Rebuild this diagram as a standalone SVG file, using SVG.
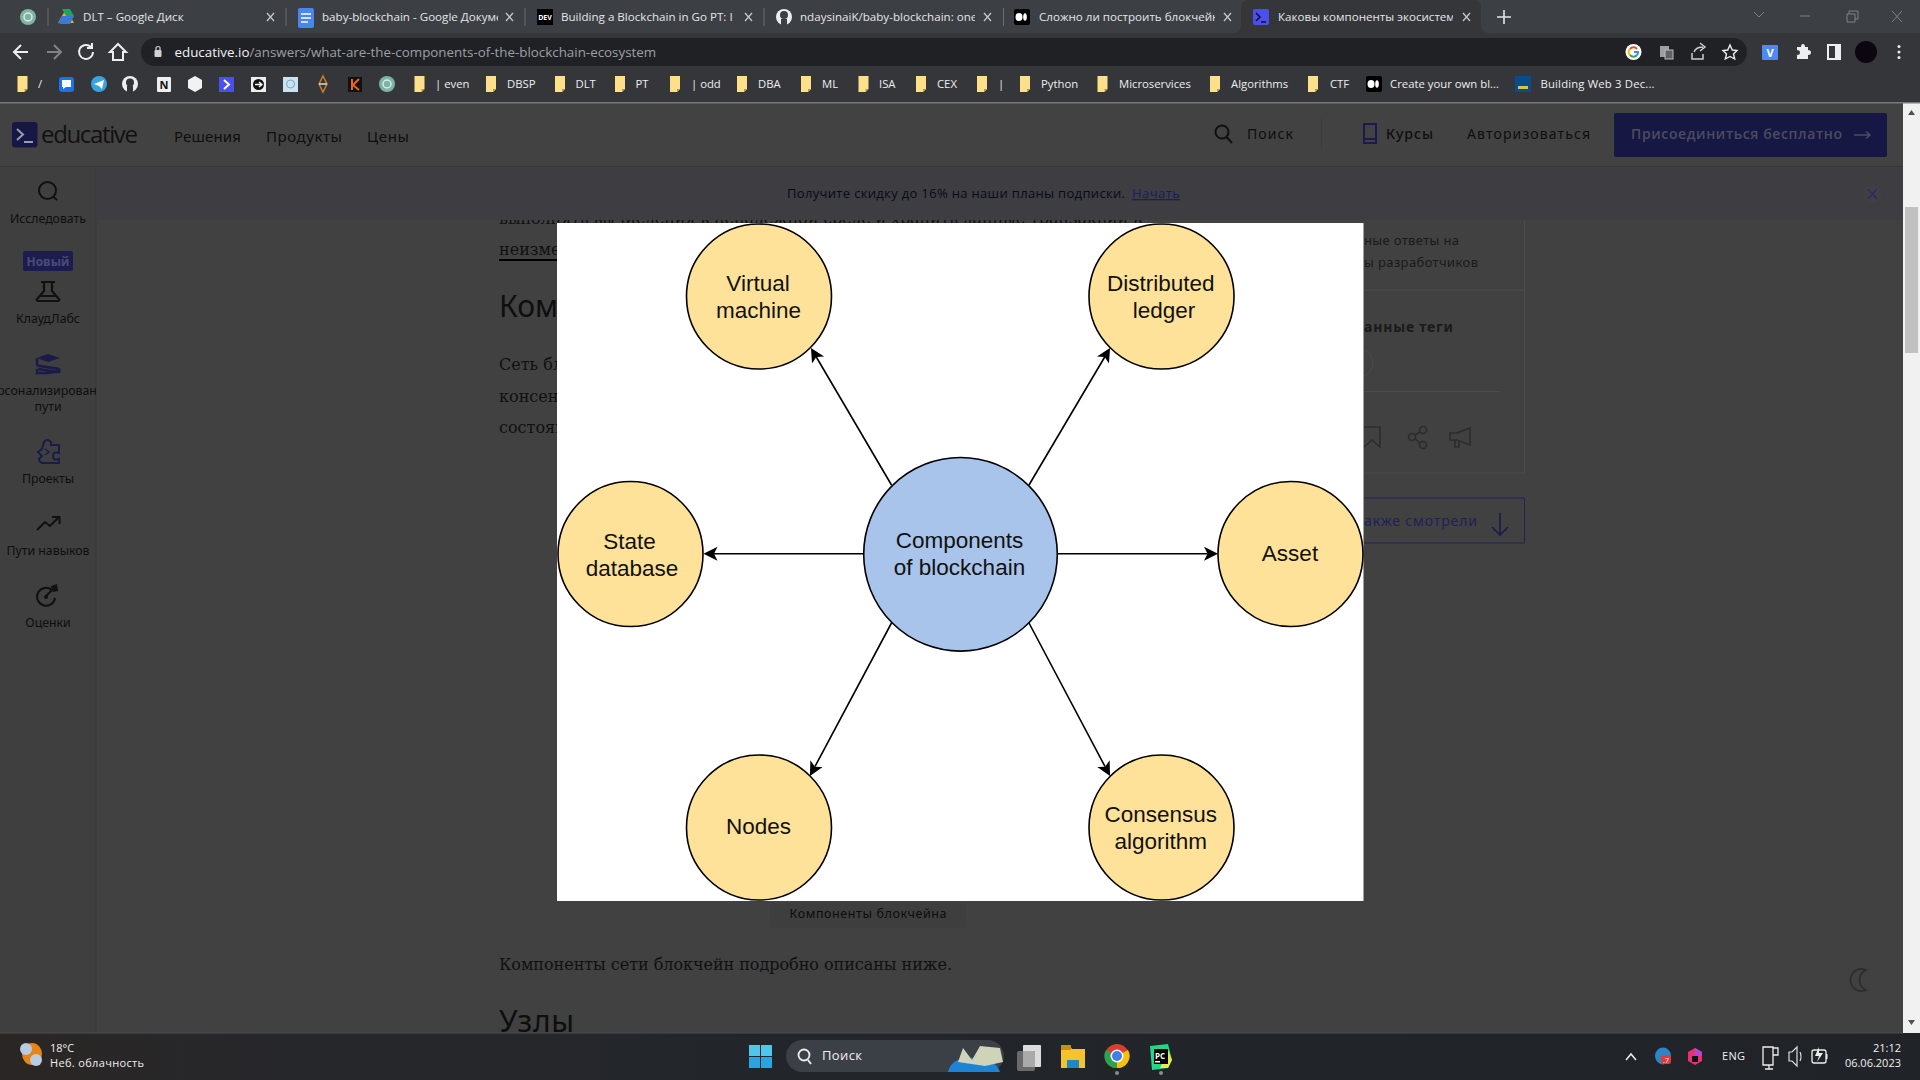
<svg xmlns="http://www.w3.org/2000/svg" width="1920" height="1080" viewBox="0 0 1920 1080">
<style>
text{font-family:"Open Sans","Noto Sans","Noto Sans CJK SC",sans-serif}
.tab{font-size:11.6px;fill:#e4e6e9}
.x{stroke:#c4c7cb;stroke-width:1.3;fill:none}
.bm{font-size:11.3px;fill:#eceef0}
.nav{font-size:15px;fill:#0e0e0e;font-family:"Noto Sans",sans-serif}
.side{font-size:12.3px;fill:#0e0e0e;font-family:"Noto Sans",sans-serif;text-anchor:middle}
.serif{font-family:"DejaVu Serif","Liberation Serif",serif;font-size:16px;fill:#101010}
.h{font-family:"Noto Sans",sans-serif;font-size:30px;fill:#0e0e0e}
.dim{font-size:13px;fill:#1a1a1a;font-family:"Noto Sans",sans-serif}
.tb{font-size:11px;fill:#f0f0f0}
.ic{fill:none;stroke:#101010;stroke-width:2}
.ic2{fill:none;stroke:#1a1a4c;stroke-width:2}
.ic3{fill:none;stroke:#2c2c2c;stroke-width:1.6}
.wh{fill:none;stroke:#eceef0;stroke-width:2}
.gy{fill:none;stroke:#c9ccd0;stroke-width:1.5}
.sep{stroke:#6a6d71;stroke-width:1}
.node{stroke:#000;stroke-width:1.6}
.y{fill:#ffe299}
.b{fill:#a9c4eb}
.lbl{font-family:"Liberation Sans",Arial,sans-serif;font-size:22.5px;fill:#111;text-anchor:middle}
.conn{stroke:#000;stroke-width:1.6;fill:none;marker-end:url(#ah)}
</style>
<defs>
<marker id="ah" markerUnits="userSpaceOnUse" markerWidth="16" markerHeight="16" refX="3.500" refY="7" orient="auto"><path d="M0,0 L14,7 L0,14 L3.500,7 Z" fill="#000"/></marker>
<g id="fold"><path d="M-5,-8 H5 V5 L2,8 H-5 Z" fill="#ffe08a"/><path d="M5,5 L2,8 V5 Z" fill="#b69a50"/></g>
<clipPath id="c1"><rect x="83" y="5" width="170" height="25"/></clipPath>
<clipPath id="c2"><rect x="322" y="5" width="176" height="25"/></clipPath>
<clipPath id="c3"><rect x="561" y="5" width="174" height="25"/></clipPath>
<clipPath id="c4"><rect x="800" y="5" width="175" height="25"/></clipPath>
<clipPath id="c5"><rect x="1039" y="5" width="176" height="25"/></clipPath>
<clipPath id="c6"><rect x="1278" y="5" width="175" height="25"/></clipPath>
<clipPath id="c7"><rect x="0" y="220" width="1920" height="40"/></clipPath>
<clipPath id="c8"><rect x="0" y="990" width="1920" height="42.5"/></clipPath>
<clipPath id="c9"><rect x="0" y="0" width="96" height="1080"/></clipPath>
<linearGradient id="tbg" x1="0" x2="1" y1="0" y2="0"><stop offset="0" stop-color="#2a2624"/><stop offset=".12" stop-color="#27272a"/><stop offset=".4" stop-color="#22262b"/><stop offset="1" stop-color="#202327"/></linearGradient>
</defs>

<g id="page">
<rect width="1920" height="1080" fill="#414141"/>
<rect x="0" y="167" width="96" height="866" fill="#3f3f3f"/>
<rect x="95.500" y="167" width="1" height="866" fill="#3a3a3a"/>
<g id="article">
<text class="serif" x="499" y="224" clip-path="url(#c7)" textLength="643">выполнять вычисления в ненадёжной среде и хранить данные транзакций в</text>
<text class="serif" x="499" y="255">неизме</text><rect x="499" y="259" width="58" height="2" fill="#000"/>
<text class="h" x="499" y="317">Ком</text>
<text class="serif" x="499" y="370">Сеть бл</text>
<text class="serif" x="499" y="402">консен</text>
<text class="serif" x="499" y="433">состоян</text>
<rect x="770" y="903" width="196" height="25" rx="3" fill="#3e3e3e"/>
<text class="dim" x="789.500" y="918" textLength="157" style="font-size:12.5px;fill:#0c0c0c">Компоненты блокчейна</text>
<text class="serif" x="499" y="970" textLength="453">Компоненты сети блокчейн подробно описаны ниже.</text>
<text class="h" x="499" y="1032" clip-path="url(#c8)" textLength="75">Узлы</text>
</g>
<g id="rail">
<path d="M1524.500,220 V473 H1364 M1364,290 H1524.500 M1364,391.500 H1500" stroke="#4c4c4c" fill="none"/>
<path d="M1364,350 A14,14 0 0 1 1364,376" stroke="#4c4c4c" fill="none"/>
<text class="dim" x="1364" y="245" textLength="95">ные ответы на</text>
<text class="dim" x="1364" y="267" textLength="114">ы разработчиков</text>
<text class="dim" x="1364" y="331.500" font-weight="700" textLength="89" style="font-size:14px">анные теги</text>
<path class="ic3" d="M1364,427 H1380 V447 L1372,440 L1364,447"/>
<g class="ic3"><circle cx="1423" cy="430" r="3.500"/><circle cx="1412" cy="437" r="3.500"/><circle cx="1423" cy="445" r="3.500"/><path d="M1415,435 L1420,432 M1415,439 L1420,443"/></g>
<path class="ic3" d="M1450,433 H1457 L1470,428 V445 L1457,440 H1450 Z M1455,440 V447 H1459 V441"/>
<path d="M1364,498 H1524.500 V543 H1364" stroke="#23235a" fill="none"/>
<text class="dim" x="1364" y="526" textLength="113" style="font-size:14px;fill:#20205a">акже смотрели</text>
<path class="ic2" d="M1500,513 V535 M1492,527 L1500,535 L1508,527" style="stroke-width:1.600"/>
<path class="ic3" d="M1866,970 A11,11 0 1 0 1866,990 A11,11 0 0 1 1866,970 Z"/>
</g>
<rect x="96" y="167" width="1807" height="53" fill="#3d3d42"/>
<g id="promo">
<text x="787" y="198" font-size="13" fill="#0a0a18" font-family="Noto Sans" textLength="338">Получите скидку до 16% на наши планы подписки.</text>
<text x="1132" y="198" font-size="13" fill="#1c1c66" font-family="Noto Sans" text-decoration="underline" textLength="48">Начать</text>
<circle cx="1872.500" cy="194" r="9" fill="#404044"/>
<path d="M1868,189 L1877,199 M1877,189 L1868,199" stroke="#2a2a62" stroke-width="1.300"/>
</g>
<g id="header">
<rect x="0" y="103" width="1903" height="63" fill="#424242"/>
<rect x="0" y="166" width="1903" height="1" fill="#383838"/>
<rect x="12" y="122" width="25.500" height="25.500" rx="3" fill="#171745"/>
<path d="M17,129 L23,134.500 L17,140 M24,142 H33" stroke="#9a9ab0" stroke-width="2" fill="none"/>
<text x="41" y="143" font-size="24" fill="#111" font-family="Lato" textLength="97">educative</text>
<text class="nav" x="174" y="142" textLength="67">Решения</text>
<text class="nav" x="266" y="142" textLength="76">Продукты</text>
<text class="nav" x="367" y="142" textLength="42">Цены</text>
<g class="ic"><circle cx="1222" cy="132" r="6.500"/><path d="M1226.500,137 L1232,143"/></g>
<text class="nav" x="1247" y="139" textLength="46" style="font-size:14px">Поиск</text>
<path d="M1321.500,118 V150" stroke="#3c3c3c"/>
<path class="ic2" d="M1364,124 H1376 V143 H1364 Z M1364,139 H1376"/>
<text class="nav" x="1386" y="139" textLength="47" font-weight="500" style="font-size:14px">Курсы</text>
<text class="nav" x="1467" y="139" textLength="123" style="font-size:14px">Авторизоваться</text>
<rect x="1614" y="113" width="273" height="44" rx="2" fill="#171743"/>
<text x="1631" y="139" font-size="14" font-weight="600" fill="#4c4c60" font-family="Noto Sans" textLength="211">Присоединиться бесплатно</text>
<path d="M1854,135 H1870 M1866,131.500 L1870,135 L1866,138.500" stroke="#4c4c60" stroke-width="1.500" fill="none"/>
</g>
<g id="sidebar">
<g class="ic"><circle cx="47.500" cy="190.500" r="8.500"/><path d="M53.500,197 L57,200"/></g>
<text class="side" x="48" y="223">Исследовать</text>
<rect x="23" y="251" width="50" height="20" rx="2" fill="#1c1c52"/>
<text x="48" y="265.500" font-size="12" font-weight="700" fill="#4c4c70" text-anchor="middle" font-family="Liberation Sans">Новый</text>
<path class="ic" d="M41,282 H55 M44,282 V291 L37,299 Q36,301 39,301 H57 Q60,301 59,299 L52,291 V282 M40,296 H56" style="stroke-width:2.200"/>
<text class="side" x="48" y="323">КлаудЛабс</text>
<path d="M37,358 L48,354 L60,358 L48,362 Z" fill="#1a1a4c"/>
<path class="ic2" style="stroke-width:2.500" d="M37,358 V364 Q37,366 40,366 L59,369 Q60,371 59,372 L38,369 M37,369 V373 L48,373 L60,371" />
<g clip-path="url(#c9)"><text class="side" x="47" y="395">рсонализирован</text></g>
<text class="side" x="48" y="411">пути</text>
<path class="ic2" d="M44,442 Q47,438 51,442 V445 H59 V453 Q53,451 53,456 Q53,461 59,459 V463 H44 Q39,463 39,459 L42,456 L38,452 L42,449 Z"/>
<path d="M45,449 L49,452 L45,455" class="ic2" style="stroke-width:1.300"/>
<text class="side" x="48" y="483">Проекты</text>
<path class="ic" d="M37,530 L45,522 L50,526 L59,517 M52,517 H59.500 V524"/>
<text class="side" x="48" y="555">Пути навыков</text>
<path class="ic" d="M52,590 A9,9 0 1 0 55,598 M46,596 L55,587"/><circle cx="46" cy="597" r="2" fill="#111"/><path d="M51,586 L57,584 L58,591 L53,592 Z" fill="#111"/>
<text class="side" x="48" y="627">Оценки</text>
</g>
<g id="scrollbar">
<rect x="1903" y="103" width="17" height="930" fill="#f1f1f1"/>
<rect x="1905" y="207" width="13" height="146" fill="#c1c1c1"/>
<path d="M1908,115 L1911.500,110 L1915,115 Z M1908,1020 L1911.500,1025 L1915,1020 Z" fill="#505050"/>
</g>
</g>

<g id="browser">
<rect width="1920" height="102" fill="#35363a"/>
<rect width="1920" height="33" fill="#3c3f43"/>
<rect y="102" width="1920" height="1.500" fill="#77797c"/>
<path d="M1233,33 Q1241,33 1241,25 V8 Q1241,0 1249,0 H1473 Q1481,0 1481,8 V25 Q1481,33 1489,33 Z" fill="#35363a"/>
<path class="sep" d="M48,8 V26 M286,8 V26 M525,8 V26 M764,8 V26 M1003.500,8 V26"/>
<circle cx="28" cy="17" r="8" fill="#7fb3a3"/><circle cx="28" cy="17" r="4" fill="none" stroke="#d5eee6" stroke-width="1.500"/>
<path d="M66,9 L74,23 H58 Z" fill="#f4b400"/><path d="M62,9 H70 L74,16 H66 Z" fill="#1fa463"/><path d="M58,23 L62,16 H74 L70,24 H61 Z" fill="#3c78d8"/>
<text class="tab" x="83" y="21" clip-path="url(#c1)">DLT – Google Диск</text>
<rect x="298" y="8" width="16" height="20" rx="2" fill="#4a86f0"/><path d="M301,14 H311 M301,18 H311 M301,22 H308" stroke="#fff" stroke-width="1.500"/>
<text class="tab" x="322" y="21" clip-path="url(#c2)">baby-blockchain - Google Документы</text>
<rect x="537" y="9" width="16" height="16" fill="#000"/><text x="545" y="20" font-size="7" font-weight="700" fill="#fff" text-anchor="middle" font-family="Liberation Sans">DEV</text>
<text class="tab" x="561" y="21" clip-path="url(#c3)">Building a Blockchain in Go PT: I - Th</text>
<circle cx="784" cy="17" r="8" fill="#eee"/><circle cx="784" cy="15" r="4" fill="#3c3f43"/><rect x="781" y="19" width="6" height="6" fill="#3c3f43"/>
<text class="tab" x="800" y="21" clip-path="url(#c4)">ndaysinaiK/baby-blockchain: one</text>
<rect x="1014" y="9" width="16" height="16" rx="2" fill="#000"/><ellipse cx="1019" cy="17" rx="3.500" ry="4" fill="#fff"/><ellipse cx="1025" cy="17" rx="1.800" ry="3.800" fill="#fff"/>
<text class="tab" x="1039" y="21" clip-path="url(#c5)">Сложно ли построить блокчейн</text>
<rect x="1253" y="9" width="16" height="16" rx="2" fill="#4c4ff0"/><path d="M1256,13 L1260,17 L1256,21 M1261,22 H1266" stroke="#111" stroke-width="1.500" fill="none"/>
<text class="tab" x="1278" y="21" clip-path="url(#c6)">Каковы компоненты экосистемы</text>
<g class="x"><path d="M267,13 L274,21 M274,13 L267,21"/><path d="M506,13 L513,21 M513,13 L506,21"/><path d="M745,13 L752,21 M752,13 L745,21"/><path d="M984,13 L991,21 M991,13 L984,21"/><path d="M1224,13 L1231,21 M1231,13 L1224,21"/><path d="M1463,13 L1470,21 M1470,13 L1463,21"/></g>
<path d="M1504,10 V24 M1497,17 H1511" stroke="#e4e6e9" stroke-width="1.600"/>
<path d="M1754,12 L1759,17 L1764,12 M1800,16 H1810 M1847,14 H1855 V22 H1847 Z M1849,14 V11 H1858 V19 H1855 M1892,11 L1902,22 M1902,11 L1892,22" stroke="#7e8185" fill="none"/>

<path d="M21,45 L14,52 L21,59 M14,52 H28" class="wh"/>
<path d="M54,45 L61,52 L54,59 M47,52 H61" fill="none" stroke="#7f8286" stroke-width="2"/>
<path d="M91,47 A7,7 0 1 0 93,52 M92,43 V48 H87" class="wh"/>
<path d="M118,44 L126,52 H123 V60 H113 V52 H110 Z" class="wh"/>
<rect x="141" y="38" width="1606" height="28" rx="14" fill="#202124"/>
<rect x="154.500" y="50" width="7" height="7" rx="1" fill="#d0d2d5"/><path d="M156,50 V47.500 A2.500,2.500 0 0 1 160,47.500 V50" stroke="#d0d2d5" fill="none" stroke-width="1.200"/>
<text x="174.500" y="57" font-size="13.370" fill="#f2f3f4">educative.io<tspan fill="#9aa0a6">/answers/what-are-the-components-of-the-blockchain-ecosystem</tspan></text>
<circle cx="1633.500" cy="52" r="8" fill="#fff"/>
<path d="M1637,49 A4.500,4.500 0 0 0 1630,49" stroke="#ea4335" stroke-width="2" fill="none"/><path d="M1630,49 A4.500,4.500 0 0 0 1630,55" stroke="#fbbc05" stroke-width="2" fill="none"/><path d="M1630,55 A4.500,4.500 0 0 0 1637,55" stroke="#34a853" stroke-width="2" fill="none"/><path d="M1637,55 A4.500,4.500 0 0 0 1638,52 H1634" stroke="#4285f4" stroke-width="2" fill="none"/>
<rect x="1660" y="46" width="9" height="11" fill="#9aa0a6"/><rect x="1665" y="50" width="8" height="9" fill="#5f6368" stroke="#bbb"/>
<path d="M1692,53 V59 H1703 V54 M1694,52 Q1696,47 1703,47 M1700,43 L1705,47 L1700,51" class="gy"/>
<path d="M1730,45 L1732.300,50 L1737,50.500 L1733.500,54 L1734.700,59 L1730,56.500 L1725.300,59 L1726.500,54 L1723,50.500 L1727.700,50 Z" class="wh" style="stroke-width:1.400"/>
<rect x="1762" y="45" width="16" height="15" rx="1" fill="#4c8bf5"/><text x="1770" y="57" font-size="11" font-weight="700" fill="#fff" text-anchor="middle" font-family="Liberation Sans">V</text>
<path d="M1797,47 H1801 Q1801,44 1803,44 Q1805,44 1805,47 H1808 V50 Q1811,50 1811,52.500 Q1811,55 1808,55 V59 H1797 V55 Q1800,55 1800,52.500 Q1800,50 1797,50 Z" fill="#eceef0"/>
<rect x="1828" y="45" width="12" height="14" fill="none" stroke="#eceef0" stroke-width="2"/><rect x="1835" y="45" width="5" height="14" fill="#eceef0"/>
<circle cx="1866" cy="52" r="11" fill="#0c0610"/>
<circle cx="1899" cy="46.500" r="1.500" fill="#eceef0"/><circle cx="1899" cy="52" r="1.500" fill="#eceef0"/><circle cx="1899" cy="57.500" r="1.500" fill="#eceef0"/>

<use href="#fold" x="22.500" y="84"/><text class="bm" x="38" y="88">/</text>
<rect x="59" y="77" width="15" height="15" rx="3" fill="#1a73e8"/><path d="M62,80 H71 V87 H66 L63,89 V87 H62 Z" fill="#fff"/>
<circle cx="99" cy="84" r="8" fill="#38a5e0"/><path d="M94,84 L104,80 L102,89 L99,86 Z" fill="#fff"/>
<circle cx="130" cy="84" r="8" fill="#eee"/><circle cx="130" cy="82.500" r="4" fill="#35363a"/><rect x="127" y="86" width="6" height="6" fill="#35363a"/>
<rect x="157" y="77" width="14" height="15" rx="1" fill="#eee"/><text x="164" y="89" font-size="11" font-weight="700" fill="#111" text-anchor="middle" font-family="Liberation Serif">N</text>
<path d="M195,76 L202,80 V88 L195,92 L188,88 V80 Z" fill="#f2f2f2"/>
<rect x="219" y="77" width="15" height="15" fill="#4c4ff0"/><path d="M224,80 L229,84.500 L224,89" stroke="#fff" stroke-width="2" fill="none"/>
<rect x="251" y="77" width="15" height="15" fill="#eee"/><circle cx="258.500" cy="84.500" r="5.500" fill="#111"/><path d="M255,84.500 H261 M259,82 L262,84.500 L259,87" stroke="#fff" stroke-width="1.300" fill="none"/>
<rect x="283" y="77" width="15" height="15" fill="#c9e3f2"/><circle cx="290.500" cy="84" r="4" fill="none" stroke="#7aa7c9"/>
<path d="M323,76 L327,84 L323,92 L319,84 Z" fill="none" stroke="#c77f2a" stroke-width="1.500"/><path d="M319,84 H327" stroke="#ddd" stroke-width="1.500"/>
<rect x="348" y="77" width="14" height="15" fill="#111"/><path d="M352,79 V90 M359,79 L353,85 L359,90" stroke="#e8661d" stroke-width="2" fill="none"/>
<circle cx="387" cy="84" r="8" fill="#7fb3a3"/><circle cx="387" cy="84" r="4" fill="none" stroke="#d5eee6" stroke-width="1.500"/>
<use href="#fold" x="419.500" y="84"/><text class="bm" x="435" y="88">| even</text>
<use href="#fold" x="491" y="84"/><text class="bm" x="507" y="88">DBSP</text>
<use href="#fold" x="560" y="84"/><text class="bm" x="575.500" y="88">DLT</text>
<use href="#fold" x="620" y="84"/><text class="bm" x="635.500" y="88">PT</text>
<use href="#fold" x="675" y="84"/><text class="bm" x="691" y="88">| odd</text>
<use href="#fold" x="742" y="84"/><text class="bm" x="758" y="88">DBA</text>
<use href="#fold" x="806" y="84"/><text class="bm" x="822" y="88">ML</text>
<use href="#fold" x="863.500" y="84"/><text class="bm" x="879" y="88">ISA</text>
<use href="#fold" x="921" y="84"/><text class="bm" x="937" y="88">CEX</text>
<use href="#fold" x="982" y="84"/><text class="bm" x="998" y="88">|</text>
<use href="#fold" x="1025" y="84"/><text class="bm" x="1041" y="88">Python</text>
<use href="#fold" x="1102.500" y="84"/><text class="bm" x="1119" y="88">Microservices</text>
<use href="#fold" x="1215" y="84"/><text class="bm" x="1231" y="88">Algorithms</text>
<use href="#fold" x="1313" y="84"/><text class="bm" x="1330" y="88">CTF</text>
<rect x="1366" y="76" width="16" height="16" rx="2" fill="#000"/><ellipse cx="1371" cy="84" rx="3.500" ry="4" fill="#fff"/><ellipse cx="1377" cy="84" rx="1.800" ry="3.800" fill="#fff"/>
<text class="bm" x="1390" y="88" textLength="109">Create your own bl...</text>
<rect x="1515" y="76" width="16" height="16" fill="#0b4a8c"/><rect x="1518" y="86" width="10" height="3" fill="#d9c24a"/>
<text class="bm" x="1540.500" y="88" textLength="114">Building Web 3 Dec...</text>
</g>

<g id="taskbar">
<rect y="1033" width="1920" height="47" fill="url(#tbg)"/>
<rect y="1032.500" width="1903" height="1" fill="#4a4d50"/>
<ellipse cx="32" cy="1054" rx="10" ry="11" fill="#e98516"/><circle cx="26" cy="1049" r="6" fill="#b8cde4"/><circle cx="36" cy="1060" r="6" fill="#b8cde4"/>
<text class="tb" x="50" y="1052">18°C</text>
<text class="tb" x="50" y="1067" textLength="94">Неб. облачность</text>
<g fill="#4fc6ee"><rect x="749" y="1045" width="11" height="11"/><rect x="761" y="1045" width="11" height="11"/><rect x="749" y="1057" width="11" height="11" fill="#27a5e0"/><rect x="761" y="1057" width="11" height="11" fill="#27a5e0"/></g>
<rect x="786" y="1040" width="218" height="32" rx="16" fill="#3b3f46"/>
<circle cx="804" cy="1055" r="5.500" fill="none" stroke="#eee" stroke-width="1.800"/><path d="M808,1060 L811,1064" stroke="#eee" stroke-width="1.800"/>
<text x="822" y="1060" font-size="13" fill="#f0f0f0" textLength="40">Поиск</text>
<path d="M948,1072 Q952,1056 975,1058 Q995,1058 1000,1072 Z" fill="#1d83d4"/><path d="M958,1062 L963,1048 L972,1060 L980,1046 L1000,1048 L1003,1062 L985,1066 Z" fill="#cfd3b8"/>
<rect x="1017" y="1051" width="18" height="20" rx="2" fill="#6a6a6a"/><rect x="1023" y="1045" width="18" height="22" rx="1" fill="#dcdcdc"/><rect x="1023" y="1051" width="12" height="16" fill="#aaa"/>
<path d="M1061,1046 H1070 L1072,1049 H1085 V1068 H1061 Z" fill="#f5c32c"/><rect x="1061" y="1045" width="10" height="5" fill="#c98d10"/><rect x="1067" y="1060" width="12" height="8" fill="#1f86c8"/>
<circle cx="1117" cy="1056" r="12" fill="#dc3d2e"/><path d="M1117,1056 L1106,1050 A12,12 0 0 0 1117,1068 Z" fill="#2fa24f"/><path d="M1117,1056 L1128,1050 A12,12 0 0 1 1117,1068 Z" fill="#f4c20d"/><circle cx="1117" cy="1056" r="6.500" fill="#fff"/><circle cx="1117" cy="1056" r="5" fill="#3f7fe8"/>
<circle cx="1117" cy="1073" r="2" fill="#8a8c8f"/><circle cx="1161" cy="1073" r="2" fill="#8a8c8f"/>
<path d="M1150,1046 L1168,1044 L1172,1060 L1168,1068 L1152,1070 Z" fill="#21d789"/><path d="M1168,1050 L1172,1060 L1168,1068 L1160,1068 Z" fill="#e9e84d"/><rect x="1154" y="1049" width="14" height="15" fill="#000"/><text x="1155" y="1059" font-size="8" font-weight="700" fill="#fff" font-family="Liberation Sans">PC</text><rect x="1155" y="1061" width="5" height="1.500" fill="#fff"/>
<path d="M1626,1060 L1631,1054 L1636,1060" class="wh" style="stroke-width:1.500"/>
<ellipse cx="1663" cy="1056" rx="8" ry="8.500" fill="#2a86c8"/><rect x="1661" y="1055" width="10" height="9" rx="2" fill="#e5383b"/><text x="1666" y="1063" font-size="7" fill="#fff" text-anchor="middle">.7</text>
<path d="M1695,1048 L1702,1052 V1061 L1695,1065 L1688,1061 V1052 Z" fill="#ec2f74"/><path d="M1695,1048 L1702,1052 V1056 L1695,1056 Z" fill="#b545d0"/><rect x="1692" y="1056" width="6" height="6" fill="#111"/>
<text class="tb" x="1722" y="1060" textLength="23">ENG</text>
<path d="M1763,1047 H1773 V1065 H1763 Z M1773,1048 H1778 V1055 H1773 M1765,1069 H1773 M1769,1065 V1069" fill="none" stroke="#eee" stroke-width="1.300"/>
<path d="M1789,1052 H1792 L1797,1047 V1066 L1792,1061 H1789 Z M1800,1052 Q1802,1056.500 1800,1061" fill="none" stroke="#ddd" stroke-width="1.200"/>
<rect x="1812" y="1050" width="14" height="13" rx="2" fill="none" stroke="#eee" stroke-width="1.300"/><rect x="1826" y="1054" width="1.500" height="5" fill="#eee"/><path d="M1819,1047 L1815,1056 H1819 L1817,1062 L1823,1053 H1819 Z" fill="#eee"/>
<text class="tb" x="1901" y="1052" style="text-anchor:end">21:12</text>
<text class="tb" x="1901" y="1067" style="text-anchor:end">06.06.2023</text>
</g>

<g id="diagram-bg"><rect x="557" y="223" width="806.500" height="678" fill="#fff"/></g>
<g id="connectors">
<path class="conn" d="M891.500,485 L816.300,357"/>
<path class="conn" d="M1029,485 L1104.700,357"/>
<path class="conn" d="M863.500,553.700 H714"/>
<path class="conn" d="M1057,553.700 H1207.500"/>
<path class="conn" d="M891.500,623 L814.900,766.700"/>
<path class="conn" d="M1029,623 L1105.100,766.700"/>
</g>
<g id="node-center"><circle class="node b" cx="960.500" cy="554.300" r="96.800"/><text class="lbl"><tspan x="959.500" y="548">Components</tspan><tspan x="959.500" y="575">of blockchain</tspan></text></g>
<g id="node-virtual-machine"><circle class="node y" cx="759" cy="296.500" r="72.500"/><text class="lbl"><tspan x="758" y="290.700">Virtual</tspan><tspan x="758.500" y="317.700">machine</tspan></text></g>
<g id="node-distributed-ledger"><circle class="node y" cx="1161.500" cy="296.500" r="72.500"/><text class="lbl"><tspan x="1160.700" y="290.700">Distributed</tspan><tspan x="1164" y="317.700">ledger</tspan></text></g>
<g id="node-state-database"><circle class="node y" cx="630.500" cy="554" r="72.500"/><text class="lbl"><tspan x="629.500" y="548.500">State</tspan><tspan x="632" y="575.500">database</tspan></text></g>
<g id="node-asset"><circle class="node y" cx="1290.500" cy="554" r="72.500"/><text class="lbl" x="1290" y="561">Asset</text></g>
<g id="node-nodes"><circle class="node y" cx="759" cy="827.500" r="72.500"/><text class="lbl" x="758.500" y="834.300">Nodes</text></g>
<g id="node-consensus"><circle class="node y" cx="1161.500" cy="827.500" r="72.500"/><text class="lbl"><tspan x="1160.800" y="821.700">Consensus</tspan><tspan x="1160.800" y="849">algorithm</tspan></text></g>
</svg>
